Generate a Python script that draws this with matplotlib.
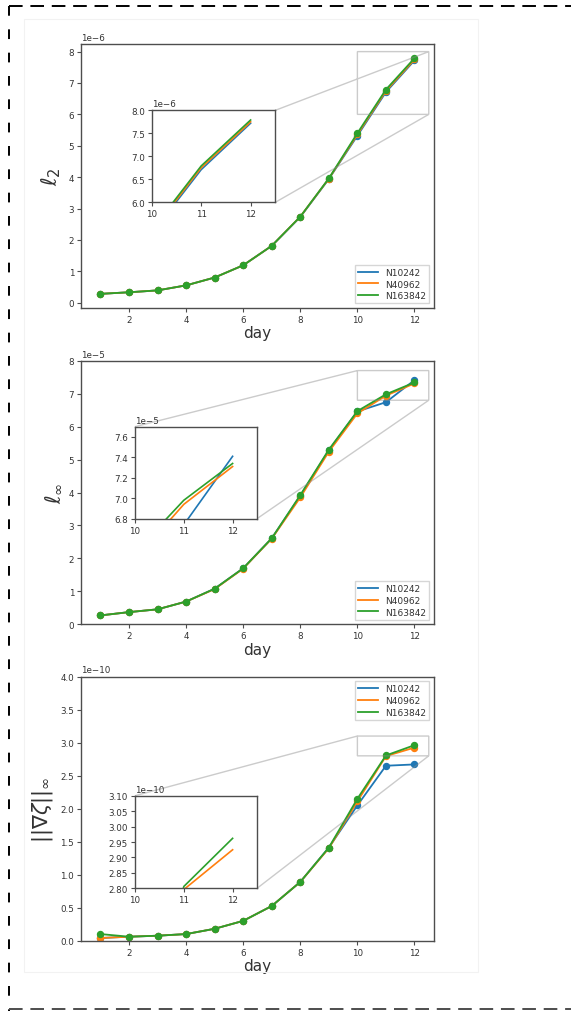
import matplotlib
matplotlib.use("Agg")
import matplotlib.pyplot as plt
from matplotlib.lines import Line2D
from matplotlib.patches import Rectangle
import numpy as np

days = [1, 2, 3, 4, 5, 6, 7, 8, 9, 10, 11, 12]
series_names = ["N10242", "N40962", "N163842"]
colors = ["#1f77b4", "#ff7f0e", "#2ca02c"]

# l2 error (x 1e-6)
l2_n10242 = [0.28, 0.33, 0.39, 0.55, 0.80, 1.19, 1.81, 2.73, 3.94, 5.32, 6.71, 7.72]
l2_n40962 = [0.28, 0.33, 0.39, 0.55, 0.80, 1.19, 1.81, 2.74, 3.95, 5.36, 6.75, 7.75]
l2_n163842 = [0.28, 0.33, 0.39, 0.55, 0.80, 1.19, 1.81, 2.74, 3.96, 5.40, 6.79, 7.79]

# l_inf error (x 1e-5)
linf_n10242 = [0.27, 0.37, 0.455, 0.69, 1.08, 1.70, 2.61, 3.90, 5.28, 6.46, 6.74, 7.41]
linf_n40962 = [0.27, 0.37, 0.455, 0.69, 1.07, 1.69, 2.60, 3.85, 5.24, 6.40, 6.94, 7.31]
linf_n163842 = [0.27, 0.37, 0.455, 0.69, 1.08, 1.70, 2.61, 3.92, 5.30, 6.47, 6.98, 7.34]

# ||grad zeta||_inf (x 1e-10)
gz_n10242 = [0.04, 0.06, 0.075, 0.10, 0.18, 0.30, 0.525, 0.89, 1.41, 2.05, 2.65, 2.67]
gz_n40962 = [0.04, 0.06, 0.075, 0.10, 0.18, 0.30, 0.525, 0.89, 1.40, 2.11, 2.796, 2.925]
gz_n163842 = [0.10, 0.06, 0.075, 0.10, 0.18, 0.30, 0.525, 0.89, 1.41, 2.15, 2.806, 2.962]

panels = [
    dict(data=[l2_n10242, l2_n40962, l2_n163842], scale=1e-6,
         ylabel=r"$\ell_2$", ylim=(-0.17, 8.245), yticks=[0, 1, 2, 3, 4, 5, 6, 7, 8],
         inset_ylim=(6.0, 8.0), inset_yticks=[6.0, 6.5, 7.0, 7.5, 8.0],
         legend_loc="lower right",
         rect=[0.1419, 0.6947, 0.618, 0.2609],
         inset_rect=[0.2657, 0.7991, 0.2165, 0.0909]),
    dict(data=[linf_n10242, linf_n40962, linf_n163842], scale=1e-5,
         ylabel=r"$\ell_\infty$", ylim=(0, 8), yticks=[0, 1, 2, 3, 4, 5, 6, 7, 8],
         inset_ylim=(6.8, 7.7), inset_yticks=[6.8, 7.0, 7.2, 7.4, 7.6],
         legend_loc="lower right",
         rect=[0.1419, 0.3821, 0.618, 0.2605],
         inset_rect=[0.2364, 0.4865, 0.2137, 0.0909]),
    dict(data=[gz_n10242, gz_n40962, gz_n163842], scale=1e-10,
         ylabel=r"$||\nabla\zeta||_\infty$", ylim=(0, 4.0),
         yticks=[0, 0.5, 1.0, 1.5, 2.0, 2.5, 3.0, 3.5, 4.0],
         inset_ylim=(2.80, 3.10), inset_yticks=[2.80, 2.85, 2.90, 2.95, 3.00, 3.05, 3.10],
         legend_loc="upper right",
         rect=[0.1419, 0.0695, 0.618, 0.2609],
         inset_rect=[0.2364, 0.1212, 0.2137, 0.0915]),
]

fig = plt.figure(figsize=(5.71, 10.12), dpi=100)

axis_col = "0.3"
text_col = "0.2"
tick_fs = 6.3

def style(ax):
    for s in ax.spines.values():
        s.set_color(axis_col)
        s.set_linewidth(1.0)
    ax.tick_params(labelsize=tick_fs, colors=axis_col, labelcolor=text_col,
                   length=3, width=0.8, pad=2)
    ax.yaxis.get_offset_text().set_fontsize(tick_fs)
    ax.yaxis.get_offset_text().set_color(text_col)

for p in panels:
    ax = fig.add_axes(p["rect"])
    sc = p["scale"]
    handles = []
    for vals, name, c in zip(p["data"], series_names, colors):
        ln, = ax.plot(days, np.array(vals) * sc, color=c, lw=1.3, label=name)
        ax.plot(days, np.array(vals) * sc, color=c, lw=0, marker="o", ms=4.3)
        handles.append(ln)
    ax.set_xlabel("day", fontsize=11, color=text_col, labelpad=1)
    ax.set_ylabel(p["ylabel"], fontsize=15, color=text_col)
    ax.set_xticks([2, 4, 6, 8, 10, 12])
    ax.set_yticks(np.array(p["yticks"]) * sc)
    style(ax)
    leg = ax.legend(handles=handles, loc=p["legend_loc"], fontsize=6.5, labelspacing=0.3,
                    borderpad=0.35, handlelength=2.2, fancybox=False)
    for t in leg.get_texts():
        t.set_color(text_col)

    ins = fig.add_axes(p["inset_rect"])
    for vals, c in zip(p["data"], colors):
        ins.plot(days, np.array(vals) * sc, color=c, lw=1.2)
    ins.set_xlim(10, 12.5)
    ins.set_ylim(p["inset_ylim"][0] * sc, p["inset_ylim"][1] * sc)
    ins.set_xticks([10, 11, 12])
    ins.set_yticks(np.array(p["inset_yticks"]) * sc)
    style(ins)
    ax.indicate_inset_zoom(ins, edgecolor="0.55", alpha=0.45, linewidth=1.0)

    ax.set_xlim(0.32, 12.68)
    ax.set_ylim(p["ylim"][0] * sc, p["ylim"][1] * sc)

# faint outer frame of the original figure
fig.add_artist(Rectangle((24 / 571, 1 - 973 / 1012), (478 - 24) / 571, (973 - 20) / 1012,
                         transform=fig.transFigure, fill=False, edgecolor="0.95", lw=0.8))

# dashed border
fig.add_artist(Line2D([9 / 571, 1.0], [1 - 7 / 1012, 1 - 7 / 1012], transform=fig.transFigure,
                      color="black", lw=1.4, linestyle=(0, (7, 4))))
fig.add_artist(Line2D([9 / 571, 9 / 571], [1 - 7 / 1012, 0.0], transform=fig.transFigure,
                      color="black", lw=1.4, linestyle=(0, (5, 7))))
fig.add_artist(Line2D([9 / 571, 1.0], [0.0015, 0.0015], transform=fig.transFigure,
                      color="0.3", lw=1.4, linestyle=(0, (7, 4))))

fig.savefig("out.png", dpi=100)
